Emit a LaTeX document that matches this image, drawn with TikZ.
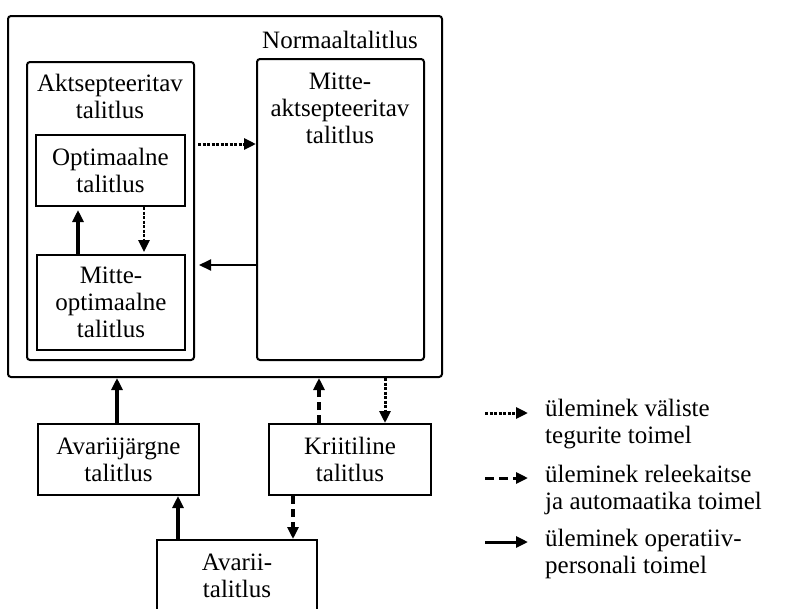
\documentclass[tikz,border=0pt]{standalone}
\usepackage{fontspec}
\setmainfont{Liberation Serif}
\usetikzlibrary{arrows.meta}
\begin{document}
\begin{tikzpicture}[x=1pt,y=-1pt,
  every node/.style={font=\fontsize{25}{27}\selectfont, align=center},
  box/.style={draw=black, line width=2pt, inner sep=0pt},
  roundbox/.style={box, rounded corners=3pt},
  lbl/.style={inner sep=0pt, anchor=north},
  tip/.style={-{Triangle[length=12pt,width=11pt]}},
  dotarrow/.style={tip, line width=3pt, dash pattern=on 3pt off 1.5pt},
  dasharrow/.style={tip, line width=3.5pt, dash pattern=on 8pt off 5pt},
  thinarrow/.style={tip, line width=2pt},
  thickarrow/.style={tip, line width=3.5pt},
]
\useasboundingbox (0,0) rectangle (786,608);
\clip (0,0) rectangle (786,608);
\fill[white] (0,0) rectangle (786,608);

% Normal operation and its sub-states
\node[roundbox, minimum width=434pt, minimum height=361pt] (norm) at (225,196.5) {};
\node[lbl] (normlbl) at (340,31) {Normaaltalitlus};
\node[roundbox, minimum width=167pt, minimum height=298pt] (akt) at (110.5,211) {};
\node[lbl] (aktlbl) at (110,74) {Aktsepteeritav\\talitlus};
\node[roundbox, minimum width=167pt, minimum height=301pt] (mak) at (340.5,209.5) {};
\node[lbl] (maklbl) at (340,73) {Mitte-\\aktsepteeritav\\talitlus};
\node[box, minimum width=149pt, minimum height=71pt] (opt) at (110.5,170.5) {Optimaalne\\talitlus};
\node[box, minimum width=148pt, minimum height=95pt] (mopt) at (111,302.5) {Mitte-\\optimaalne\\talitlus};

% Abnormal states
\node[box, minimum width=161pt, minimum height=71pt] (avj) at (118.5,459.5) {Avariijärgne\\talitlus};
\node[box, minimum width=162pt, minimum height=71pt] (kri) at (350,459.5) {Kriitiline\\talitlus};
\node[box, minimum width=160pt, minimum height=71pt] (av) at (237,575.5) {Avarii-\\talitlus};

% Transitions inside the normal state
\draw[dotarrow, shorten <=3pt] (akt.east |- 0,144) -- (mak.west |- 0,144);
\draw[thinarrow, shorten >=4pt] (mak.west |- 0,265) -- (akt.east |- 0,265);
\draw[thickarrow, shorten >=3pt] (mopt.north -| 78,0) -- (opt.south -| 78,0);
\draw[dotarrow, line width=2.5pt] (opt.south -| 144,0) -- ([yshift=2pt]mopt.north -| 144,0);

% Transitions between the states
\draw[thickarrow] (avj.north -| 117,0) -- (norm.south -| 117,0);
\draw[dasharrow] (kri.north -| 319,0) -- (norm.south -| 319,0);
\draw[dotarrow] (norm.south -| 385,0) -- (kri.north -| 385,0);
\draw[thickarrow] (av.north -| 178,0) -- (avj.south -| 178,0);
\draw[dasharrow] (kri.south -| 293,0) -- (av.north -| 293,0);

% Legend
\coordinate (l1a) at (485,413); \coordinate (l1b) at (528,413);
\coordinate (l2a) at (485,478); \coordinate (l2b) at (528,478);
\coordinate (l3a) at (485,542); \coordinate (l3b) at (528,542);
\draw[dotarrow] (l1a) -- (l1b);
\draw[dasharrow, line width=3pt, dash pattern=on 9pt off 5pt] (l2a) -- (l2b);
\draw[thickarrow, line width=3pt] (l3a) -- (l3b);
\node[inner sep=0pt, anchor=north west, align=left] (leg1) at (545,399) {üleminek väliste\\tegurite toimel};
\node[inner sep=0pt, anchor=north west, align=left] (leg2) at (545,465) {üleminek releekaitse\\ja automaatika toimel};
\node[inner sep=0pt, anchor=north west, align=left] (leg3) at (545,529) {üleminek operatiiv-\\personali toimel};
\end{tikzpicture}
\end{document}
